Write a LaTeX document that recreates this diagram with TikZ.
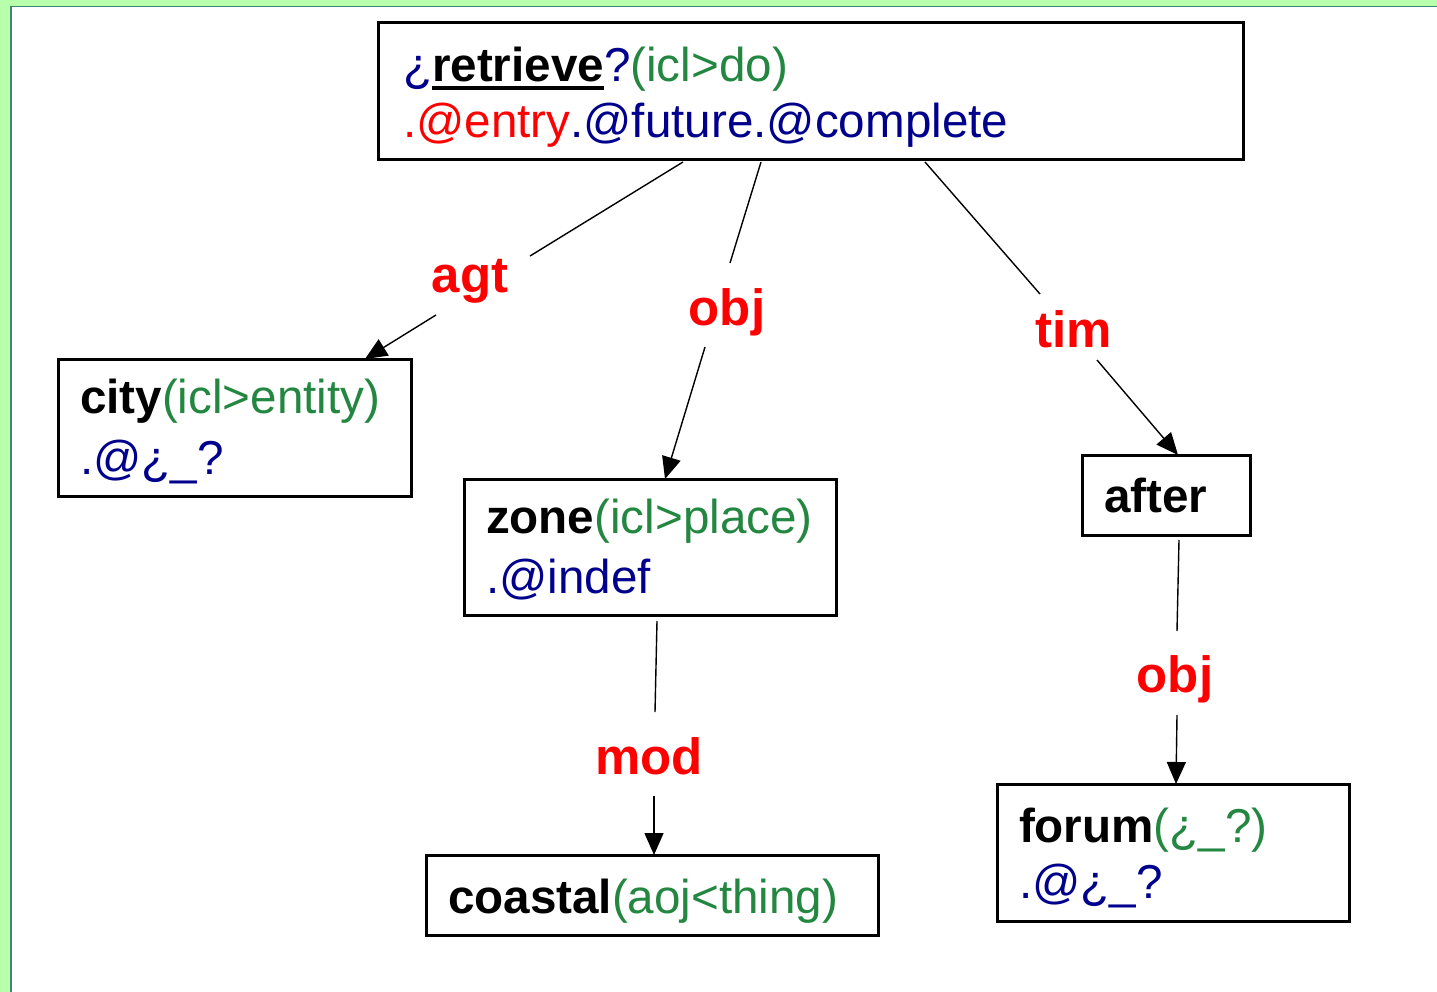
\documentclass[tikz,border=0pt]{standalone}
\usepackage{fontspec}
\setmainfont{Liberation Sans}
\usetikzlibrary{arrows.meta}
\definecolor{navy}{RGB}{0,0,140}
\definecolor{iclgreen}{RGB}{35,135,65}
\definecolor{bandgreen}{RGB}{183,255,170}
\definecolor{bandline}{RGB}{60,135,115}
\newcommand\ulbold[1]{{\setbox0\hbox{#1}\rlap{\rule[-8pt]{\wd0}{4pt}}\box0}}
\newcommand\hs[1]{\rule{0pt}{#1pt}}
\newcommand\ds[1]{\rule[-#1pt]{0pt}{#1pt}}
\begin{document}
\begin{tikzpicture}[x=1pt,y=-1pt,
  box/.style={draw=black, line width=3pt, anchor=north west, inner xsep=22pt,
    inner ysep=0pt, outer sep=0pt, align=left},
  lab/.style={text=red, font=\fontsize{51}{60}\selectfont\bfseries, anchor=base, inner sep=0pt},
  edge/.style={line width=1.4pt, draw=black},
  arr/.style={-{Triangle[length=22pt,width=19pt]}}]
\useasboundingbox (0,0) rectangle (1437,992);
\fill[white] (0,0) rectangle (1437,992);
\fill[bandgreen] (0,0) rectangle (10,992);
\fill[bandgreen] (0,0) rectangle (1437,6);
\draw[bandline, line width=1.5pt] (10.75,992) -- (10.75,6.75) -- (1437,6.75);

% boxes
\node[box, text width=815pt, inner xsep=25pt, font=\fontsize{47.6}{56}\selectfont] (retrieve) at (378,23)
 {\hs{59}\textcolor{navy}{¿}\ulbold{\textbf{retrieve}}\textcolor{navy}{?}\textcolor{iclgreen}{(icl>do)}\\
  \ds{22}\textcolor{red}{.@entry}\textcolor{navy}{.@future.@complete}};
\node[box, text width=309pt, font=\fontsize{47.6}{61}\selectfont] (city) at (58,359)
 {\hs{54}\textbf{city}\textcolor{iclgreen}{(icl>entity)}\\
  \ds{22}\textcolor{navy}{.@¿\_?}};
\node[box, text width=328pt, font=\fontsize{47.6}{60}\selectfont] (zone) at (464,479)
 {\hs{54}\textbf{zone}\textcolor{iclgreen}{(icl>place)}\\
  \ds{22}\textcolor{navy}{.@indef}};
\node[box, text width=408pt, font=\fontsize{47.6}{56}\selectfont] (coastal) at (426,855)
 {\hs{58}\ds{22}\textbf{coastal}\textcolor{iclgreen}{(aoj<thing)}};
\node[box, text width=124pt, font=\fontsize{47.6}{56}\selectfont] (after) at (1082,455)
 {\hs{57}\ds{23}\textbf{after}};
\node[box, text width=308pt, font=\fontsize{47.6}{56}\selectfont] (forum) at (997,784)
 {\hs{58}\textbf{forum}\textcolor{iclgreen}{(¿\_?)}\\
  \ds{23}\textcolor{navy}{.@¿\_?}};

% labels
\node[lab] (agt) at (470,293) {agt};
\node[lab] (obj1) at (727,325) {obj};
\node[lab] (tim) at (1073.5,347) {tim};
\node[lab] (mod) at (649,774) {mod};
\node[lab] (obj2) at (1175,692) {obj};

% gap ends
\coordinate (agt-a) at (530,256);
\coordinate (agt-b) at (436,315);
\coordinate (obj1-a) at (730,263);
\coordinate (obj1-b) at (705,347);
\coordinate (tim-a) at (1040,294);
\coordinate (tim-b) at (1097,360);
\coordinate (mod-a) at (655,712);
\coordinate (mod-b) at (654,796);
\coordinate (obj2-a) at (1177,631);
\coordinate (obj2-b) at (1177,715);

% connectors
\draw[edge] ([shift={(-127.5,2)}]retrieve.south) -- (agt-a);
\draw[edge,arr] (agt-b) -- ([shift={(130.5,0)}]city.north);
\draw[edge] ([shift={(-49.5,2)}]retrieve.south) -- (obj1-a);
\draw[edge,arr] (obj1-b) -- ([shift={(15,0)}]zone.north);
\draw[edge] ([shift={(114.5,2)}]retrieve.south) -- (tim-a);
\draw[edge,arr] (tim-b) -- ([shift={(12,0)}]after.north);
\draw[edge] ([shift={(7,6)}]zone.south) -- (mod-a);
\draw[edge,arr] (mod-b) -- ([shift={(2,0)}]coastal.north);
\draw[edge] ([shift={(13,5)}]after.south) -- (obj2-a);
\draw[edge,arr] (obj2-b) -- ([shift={(3,0)}]forum.north);
\end{tikzpicture}
\end{document}
